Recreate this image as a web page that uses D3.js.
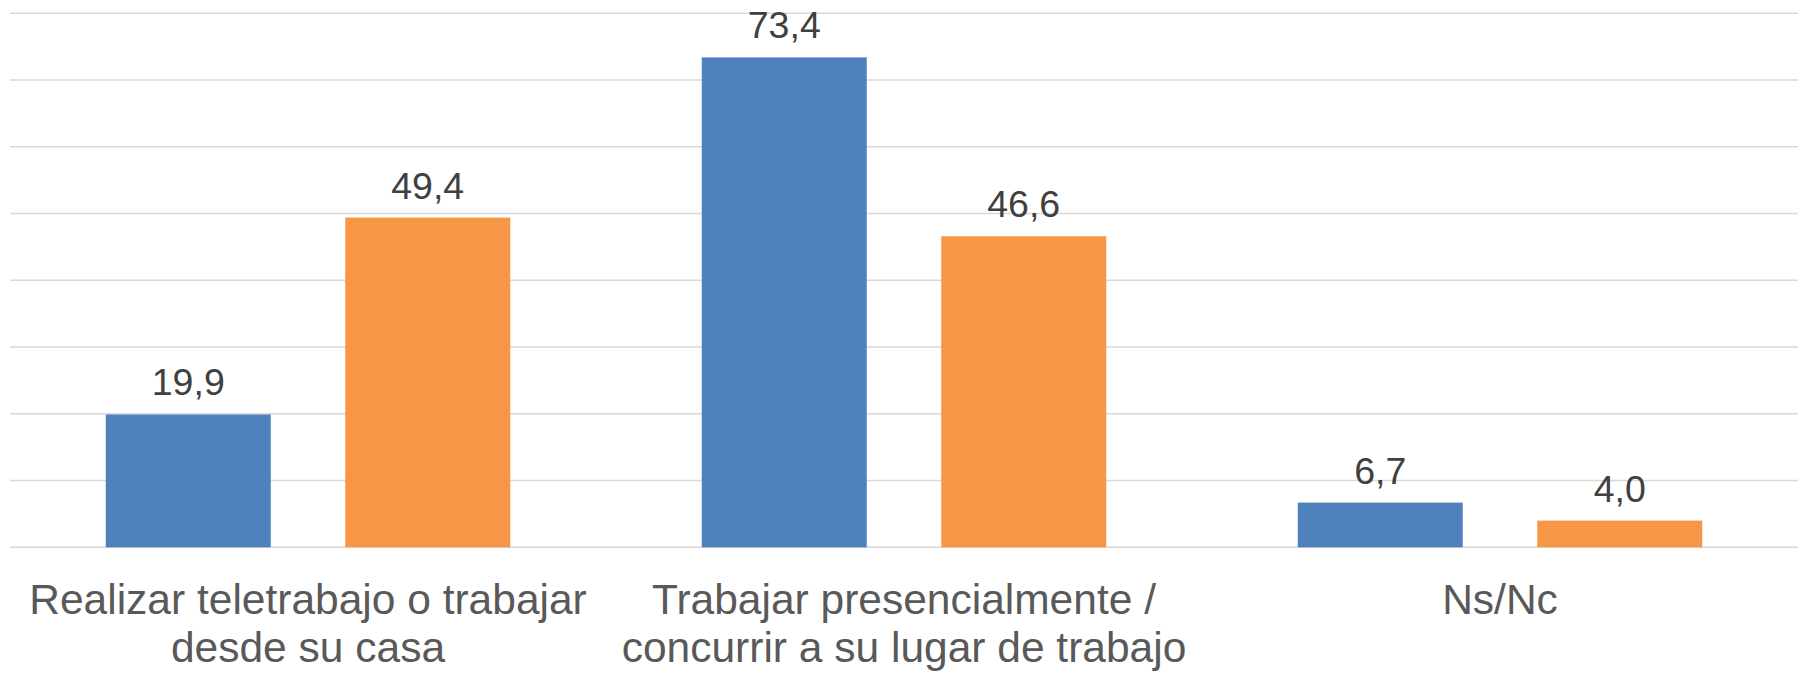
<!DOCTYPE html>
<html>
<head>
<meta charset="utf-8">
<script src="https://cdn.jsdelivr.net/npm/d3@7"></script>
<style>
  html, body { margin: 0; padding: 0; background: #ffffff; }
  svg { display: block; }
  text { font-family: "Liberation Sans", Arial, sans-serif; }
</style>
</head>
<body>
<svg id="chart" width="1800" height="673"></svg>
<script>
// Categories (each label split into its display lines)
const categories = [
  ["Realizar teletrabajo o trabajar", "desde su casa"],
  ["Trabajar presencialmente /", "concurrir a su lugar de trabajo"],
  ["Ns/Nc"]
];
const seriesKeys = ["serie1", "serie2"];
const serie1 = [19.9, 73.4, 6.7];
const serie2 = [49.4, 46.6, 4.0];
const yTicks = [0, 10, 20, 30, 40, 50, 60, 70, 80];
const colors = ["#4f81bd", "#f79646"];

const svg = d3.select("#chart");
const catIds = categories.map((c, i) => i);

// Layout
const plotLeft = 10, plotRight = 1798;
const y = d3.scaleLinear().domain([0, 80]).range([547.3, 13.3]);
const x0 = d3.scaleBand().domain(catIds).range([plotLeft, plotRight]).paddingInner(0).paddingOuter(0);
const groupW = 404.5;
const x1 = d3.scaleBand().domain(seriesKeys).range([0, groupW]).paddingInner(0.311).paddingOuter(0);
const groupOffset = (x0.bandwidth() - groupW) / 2;

// Horizontal gridlines
svg.append("g").selectAll("line").data(yTicks).join("line")
  .attr("x1", plotLeft).attr("x2", plotRight)
  .attr("y1", d => y(d)).attr("y2", d => y(d))
  .attr("stroke", "#d9d9d9").attr("stroke-width", 1.5);

// Bars
const rows = catIds.map(i => ({ i, values: [serie1[i], serie2[i]] }));
const groups = svg.append("g").selectAll("g").data(rows).join("g")
  .attr("transform", d => `translate(${x0(d.i) + groupOffset},0)`);

groups.selectAll("rect").data(d => d.values.map((v, k) => ({ key: seriesKeys[k], v, k })))
  .join("rect")
  .attr("x", d => x1(d.key))
  .attr("width", x1.bandwidth())
  .attr("y", d => y(d.v))
  .attr("height", d => y(0) - y(d.v))
  .attr("fill", d => colors[d.k]);

// Value labels
const fmt = v => d3.format(".1f")(v).replace(".", ",");
groups.selectAll("text.val").data(d => d.values.map((v, k) => ({ key: seriesKeys[k], v, k })))
  .join("text")
  .attr("class", "val")
  .attr("text-anchor", "middle")
  .attr("x", d => x1(d.key) + x1.bandwidth() / 2)
  .attr("y", d => y(d.v) - 19)
  .attr("font-size", 37.5)
  .attr("fill", "#404040")
  .text(d => fmt(d.v));

// Category labels
const catG = svg.append("g").selectAll("g").data(catIds).join("g");
catG.each(function(i) {
  const lines = categories[i];
  d3.select(this).selectAll("text").data(lines).join("text")
    .attr("text-anchor", "middle")
    .attr("x", x0(i) + x0.bandwidth() / 2)
    .attr("y", (l, j) => 614.3 + j * 47.4)
    .attr("font-size", 42.5)
    .attr("fill", "#595959")
    .text(l => l);
});
</script>
</body>
</html>
